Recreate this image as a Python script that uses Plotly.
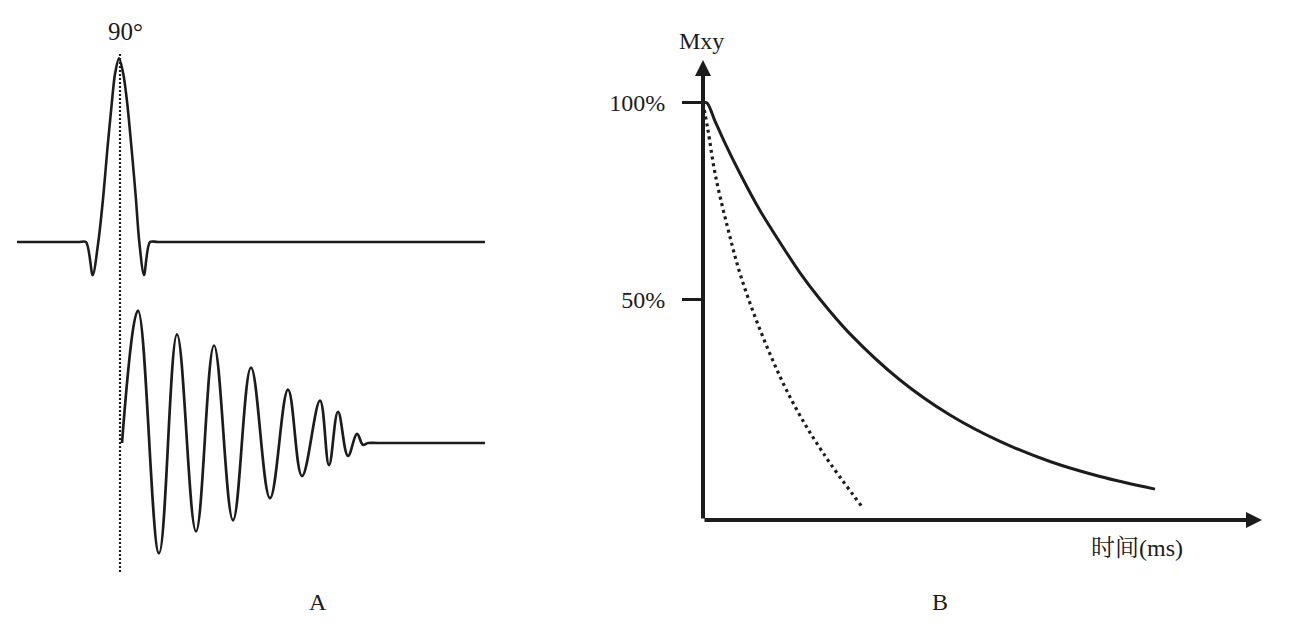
import plotly.graph_objects as go

# ---------------- data ----------------
# Panel A: 90° RF pulse (time relative to pulse centre, arbitrary units; amplitude normalised)
rf_time = [-10.3, -4.2, -3.4, -2.73, -2.17, -1.67, -1.27, -0.83, -0.5, -0.1,
           0.33, 0.73, 1.17, 1.57, 1.93, 2.4, 3.0, 3.8, 36.5]
rf_amp = [0.0, 0.0, 0.0, -0.18, 0.0, 0.25, 0.5, 0.75, 0.913, 0.998,
          0.913, 0.75, 0.5, 0.25, 0.0, -0.18, 0.0, 0.0, 0.0]

# Panel A: free induction decay (start, successive peaks / troughs, then flat tail)
fid_time = [0.2, 1.8, 3.9, 5.7, 7.6, 9.4, 11.3, 13.1, 15.0, 16.8, 18.2, 20.0, 20.9, 21.8,
            22.8, 23.7, 24.3, 24.8, 26.0, 36.5]
fid_amp = [0.0, 0.72, -0.60, 0.59, -0.48, 0.53, -0.42, 0.41, -0.30, 0.29, -0.18, 0.23, -0.12, 0.17,
           -0.07, 0.05, -0.01, 0.0, 0.0, 0.0]

# Panel B: transverse magnetisation decay (time in ms, Mxy in %)
t2_time = [0.0, 0.8, 2.4, 4.4, 7.4, 11.4, 15.4, 19.4, 23.4, 29.4, 39.4, 49.4, 59.4, 69.4, 79.4, 90.4]
t2_mxy = [100.0, 100.0, 95.4, 89.8, 82.1, 72.7, 64.6, 56.9, 50.2, 41.4, 29.7, 20.8, 14.1, 9.0, 5.2, 2.0]

t2s_time = [0.0, 1.0, 2.4, 4.8, 7.8, 12.8, 18.0, 24.0, 32.0]
t2s_mxy = [100.0, 93.1, 82.2, 69.0, 55.1, 38.1, 23.9, 11.2, -2.8]

mxy_ticks = [50, 100]
mxy_tick_labels = ["50%", "100%"]

# axis extents of panel B (data units)
time_axis_end = 111.8
mxy_axis_end = 110.9
mxy_axis_base = -5.84

W, H = 1302, 643
INK = "#1c1c1c"
SERIF = "Liberation Serif, Times New Roman, Noto Serif CJK SC, Noto Sans CJK SC, serif"

fig = go.Figure()

# Panel A traces
fig.add_trace(go.Scatter(x=rf_time, y=rf_amp, mode="lines", xaxis="x", yaxis="y",
                         line=dict(color=INK, width=2.6, shape="spline", smoothing=0.8),
                         hoverinfo="skip", showlegend=False))
fig.add_trace(go.Scatter(x=fid_time, y=fid_amp, mode="lines", xaxis="x", yaxis="y2",
                         line=dict(color=INK, width=2.7, shape="spline", smoothing=1.1),
                         hoverinfo="skip", showlegend=False))

# Panel B traces
fig.add_trace(go.Scatter(x=t2_time, y=t2_mxy, mode="lines", xaxis="x3", yaxis="y3",
                         line=dict(color=INK, width=3, shape="spline", smoothing=0.9),
                         hoverinfo="skip", showlegend=False))
fig.add_trace(go.Scatter(x=t2s_time, y=t2s_mxy, mode="lines", xaxis="x3", yaxis="y3",
                         line=dict(color=INK, width=3.2, shape="spline", smoothing=1.0,
                                   dash="3px,3.8px"),
                         hoverinfo="skip", showlegend=False))

hidden = dict(visible=False, showgrid=False, zeroline=False, fixedrange=True)

fig.update_layout(
    width=W, height=H,
    margin=dict(l=0, r=0, t=0, b=0),
    paper_bgcolor="white", plot_bgcolor="rgba(0,0,0,0)",
    showlegend=False,
    font=dict(family=SERIF, color=INK, size=24),
    # Panel A
    xaxis=dict(domain=[0, 0.5], range=[-12, 53.1], anchor="y", **hidden),
    yaxis=dict(domain=[0.5378, 0.9384], range=[-0.3, 1.1], anchor="x", **hidden),
    yaxis2=dict(domain=[0.1107, 0.5342], range=[-0.7, 0.78], anchor="x", **hidden),
    # Panel B
    xaxis3=dict(domain=[0.5, 1.0], range=[-10.4, 119.8], anchor="y3", **hidden),
    yaxis3=dict(domain=[0, 1], range=[-37.06, 126.14], anchor="free", position=703 / W,
                visible=True, showgrid=False, zeroline=False, showline=False, fixedrange=True,
                tickmode="array", tickvals=mxy_ticks, ticktext=mxy_tick_labels,
                ticks="outside", ticklen=21, tickwidth=3, tickcolor=INK,
                ticklabelstandoff=12,
                tickfont=dict(family=SERIF, size=24, color=INK)),
)

# dotted vertical marker at the pulse centre
fig.add_shape(type="line", xref="x", yref="paper", x0=0, x1=0,
              y0=1 - 572 / H, y1=1 - 53 / H,
              line=dict(color=INK, width=2.2, dash="2px,2px"))

# Panel B axes with arrowheads
fig.add_annotation(x=time_axis_end, y=mxy_axis_base, ax=0, ay=mxy_axis_base,
                   xref="x3", yref="y3", axref="x3", ayref="y3", text="",
                   showarrow=True, arrowhead=2, arrowsize=0.8, arrowwidth=4, arrowcolor=INK)
fig.add_annotation(x=0, y=mxy_axis_end, ax=0, ay=mxy_axis_base,
                   xref="x3", yref="y3", axref="x3", ayref="y3", text="",
                   showarrow=True, arrowhead=2, arrowsize=0.8, arrowwidth=4, arrowcolor=INK)

# text labels
def label(text, px, py, size=24):
    fig.add_annotation(x=px / W, y=1 - py / H, xref="paper", yref="paper", text=text,
                       showarrow=False, xanchor="center", yanchor="middle",
                       font=dict(family=SERIF, size=size, color=INK))

label("90°", 125, 32, 25)
label("Mxy", 701, 41, 24)
label("时间(ms)", 1137, 548, 24)
label("A", 318, 602, 24)
label("B", 940, 602, 24)

fig.write_html("out.html", config={"displayModeBar": False},
               post_script="document.body.style.margin='0px';")
